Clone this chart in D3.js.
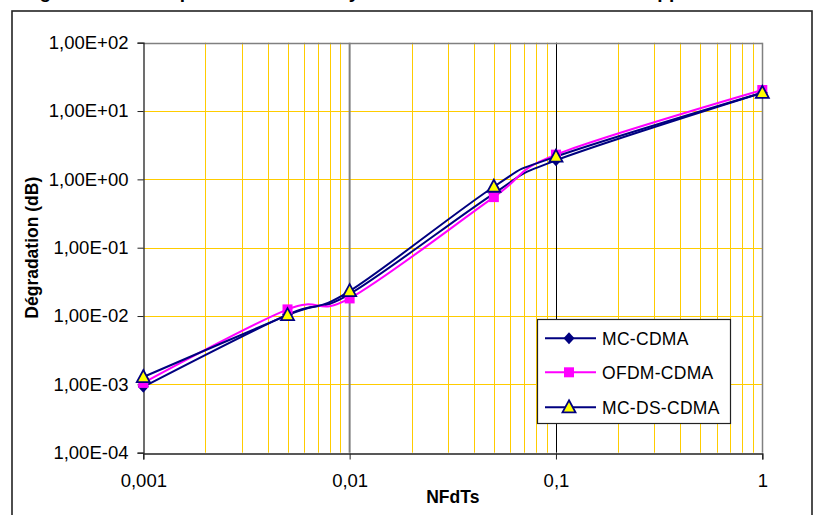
<!DOCTYPE html>
<html>
<head>
<meta charset="utf-8">
<script src="https://cdn.jsdelivr.net/npm/d3@7"></script>
<style>
html,body{margin:0;padding:0;background:#fff;}
svg{display:block;font-family:"Liberation Sans",Arial,sans-serif;}
</style>
</head>
<body>
<svg id="chart" width="814" height="515"></svg>
<script>
// ---- data ----
const titleText = "Dégradation de la performance des systèmes en fonction de l'offset Doppler normalisé";
const xValues = [0.001, 0.005, 0.01, 0.05, 0.1, 1];
const mcCdma   = [0.00092, 0.0105, 0.021, 0.62, 1.9, 18.5];
const ofdmCdma = [0.00105, 0.0125, 0.0181, 0.55, 2.3, 20.3];
const mcDsCdma = [0.00128, 0.0103, 0.0232, 0.78, 2.15, 18.5];
const seriesNames = ["MC-CDMA", "OFDM-CDMA", "MC-DS-CDMA"];
const yTicks = [1e-4, 1e-3, 1e-2, 1e-1, 1e0, 1e1, 1e2];
const yTickLabels = ["1,00E-04","1,00E-03","1,00E-02","1,00E-01","1,00E+00","1,00E+01","1,00E+02"];
const xTicks = [0.001, 0.01, 0.1, 1];
const xTickLabels = ["0,001","0,01","0,1","1"];
const xLabel = "NFdTs";
const yLabel = "Dégradation (dB)";

// ---- layout ----
const svg = d3.select("#chart");
const L = 143.3, R = 762.3, T = 42.7, B = 452.7;
const x = d3.scaleLog().domain([0.001, 1]).range([L, R]);
const y = d3.scaleLog().domain([1e-4, 1e2]).range([B, T]);

// title (cut off at top, as in the reference)
svg.append("text").attr("x", 407).attr("y", -2).attr("text-anchor","middle")
  .attr("font-size", 19).attr("font-weight","bold").text(titleText);

// outer frame
svg.append("rect").attr("x",12).attr("y",11).attr("width",800).attr("height",520)
  .attr("fill","none").attr("stroke","#222").attr("stroke-width",1.6);

// minor vertical gridlines
const minorX = [];
[0.001, 0.01, 0.1].forEach(d => { for (let k = 2; k <= 9; k++) minorX.push(d * k); });
svg.append("g").selectAll("line").data(minorX).join("line")
  .attr("x1", d => Math.round(x(d)) + 0.5).attr("x2", d => Math.round(x(d)) + 0.5)
  .attr("y1", T).attr("y2", B).attr("stroke", "#FFCC00").attr("stroke-width", 1);

// horizontal gridlines
svg.append("g").selectAll("line").data([1e-3, 1e-2, 1e-1, 1e0, 1e1]).join("line")
  .attr("x1", L).attr("x2", R)
  .attr("y1", d => Math.round(y(d)) + 0.5).attr("y2", d => Math.round(y(d)) + 0.5)
  .attr("stroke", "#FFCC00").attr("stroke-width", 1);

// major vertical lines
svg.append("line").attr("x1", x(0.01)).attr("x2", x(0.01)).attr("y1", T).attr("y2", B)
  .attr("stroke", "#808080").attr("stroke-width", 2);
svg.append("line").attr("x1", Math.round(x(0.1))+0.5).attr("x2", Math.round(x(0.1))+0.5).attr("y1", T).attr("y2", B)
  .attr("stroke", "#000").attr("stroke-width", 1);

// plot border top/right
svg.append("line").attr("x1", L).attr("x2", R).attr("y1", Math.round(T)+0.5).attr("y2", Math.round(T)+0.5)
  .attr("stroke", "#808080").attr("stroke-width", 1.5);
svg.append("line").attr("x1", Math.round(R)+0.5).attr("x2", Math.round(R)+0.5).attr("y1", T).attr("y2", B)
  .attr("stroke", "#808080").attr("stroke-width", 1.5);

// axes
const yAxis = d3.axisLeft(y).tickValues(yTicks).tickFormat((d,i) => yTickLabels[i]).tickSize(6).tickPadding(9);
const gy = svg.append("g").attr("transform", `translate(${Math.round(L)+0.5},0)`).call(yAxis);
const xAxis = d3.axisBottom(x).tickValues(xTicks).tickFormat((d,i) => xTickLabels[i]).tickSize(6).tickPadding(14);
const gx = svg.append("g").attr("transform", `translate(0,${Math.round(B)+0.5})`).call(xAxis);
[gx, gy].forEach(g => {
  g.select(".domain").attr("stroke", "#222").attr("stroke-width", 1.3);
  g.selectAll(".tick line").attr("stroke", "#222");
  g.selectAll(".tick text").attr("font-size", 18.5).attr("fill", "#000")
    .attr("font-family", "'Liberation Sans',Arial,sans-serif");
});

// axis titles
svg.append("text").attr("x", (L+R)/2).attr("y", 503).attr("text-anchor","middle")
  .attr("font-size", 17.5).attr("font-weight","bold").text(xLabel);
svg.append("text").attr("transform", `translate(38,${(T+B)/2}) rotate(-90)`).attr("text-anchor","middle")
  .attr("font-size", 17.5).attr("font-weight","bold").text(yLabel);

// series
const series = [
  {name: seriesNames[0], values: mcCdma,   color: "#000080", marker: "diamond"},
  {name: seriesNames[1], values: ofdmCdma, color: "#FF00FF", marker: "square"},
  {name: seriesNames[2], values: mcDsCdma, color: "#000080", marker: "triangle"}
];
const line = d3.line().x(d => x(d[0])).y(d => y(d[1])).curve(d3.curveCatmullRom.alpha(0));

function drawMarker(g, type, cx, cy) {
  if (type === "diamond") {
    g.append("path").attr("d", `M${cx},${cy-6}L${cx+5.5},${cy}L${cx},${cy+6}L${cx-5.5},${cy}Z`)
      .attr("fill", "#000080");
  } else if (type === "square") {
    g.append("rect").attr("x", cx-5).attr("y", cy-5).attr("width", 10).attr("height", 10)
      .attr("fill", "#FF00FF");
  } else {
    g.append("path").attr("d", `M${cx},${cy-7}L${cx+6.5},${cy+5}L${cx-6.5},${cy+5}Z`)
      .attr("fill", "#FFFF00").attr("stroke", "#000080").attr("stroke-width", 1.8).attr("stroke-linejoin","miter");
  }
}

series.forEach(s => {
  const pts = xValues.map((v, i) => [v, s.values[i]]);
  svg.append("path").datum(pts).attr("d", line).attr("fill", "none")
    .attr("stroke", s.color).attr("stroke-width", 2);
});
series.forEach(s => {
  const g = svg.append("g");
  xValues.forEach((v, i) => drawMarker(g, s.marker, x(v), y(s.values[i])));
});

// legend
const lg = svg.append("g");
lg.append("rect").attr("x", 537.5).attr("y", 319.5).attr("width", 193).attr("height", 104)
  .attr("fill", "#fff").attr("stroke", "#222").attr("stroke-width", 1.2);
const legendY = [338.3, 372.3, 407.3];
series.forEach((s, i) => {
  lg.append("line").attr("x1", 545).attr("x2", 596).attr("y1", legendY[i]).attr("y2", legendY[i])
    .attr("stroke", s.color).attr("stroke-width", 2);
  drawMarker(lg, s.marker, 569, legendY[i]);
  lg.append("text").attr("x", 602).attr("y", legendY[i] + 6.5).attr("font-size", 17.5)
    .attr("letter-spacing", 0.3).text(s.name);
});
</script>
</body>
</html>
